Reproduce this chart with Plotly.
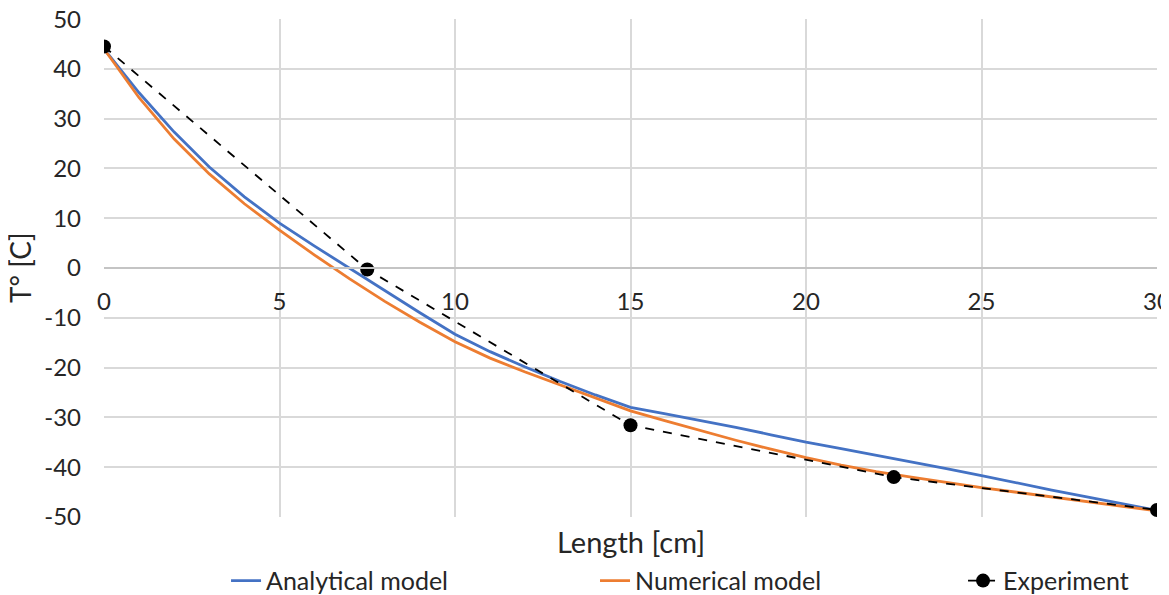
import plotly.graph_objects as go

# ---- data ----
x_model = [0, 1, 2, 3, 4, 5, 6, 7, 8, 9, 10, 11, 12, 13, 14, 15,
           16, 17, 18, 19, 20, 21, 22, 23, 24, 25, 26, 27, 28, 29, 30]
analytical = [44.0, 35.2, 27.3, 20.3, 14.3, 9.0, 4.4, -0.1, -4.6, -9.0, -13.3,
              -16.8, -19.9, -22.8, -25.5, -28.0,
              -29.3, -30.6, -32.0, -33.5, -35.0, -36.3, -37.6, -39.0, -40.3,
              -41.7, -43.2, -44.6, -46.0, -47.4, -48.7]
numerical = [44.0, 34.2, 25.9, 18.9, 12.9, 7.6, 2.6, -2.2, -6.7, -10.9, -14.8,
             -18.1, -20.9, -23.5, -26.1, -28.7,
             -30.7, -32.7, -34.6, -36.4, -38.1, -39.6, -40.9, -42.0, -43.1,
             -44.1, -45.05, -45.95, -46.85, -47.8, -48.8]
x_exp = [0, 7.5, 15, 22.5, 30]
experiment = [44.5, -0.3, -31.6, -42.0, -48.6]

x_ticks = [0, 5, 10, 15, 20, 25, 30]
y_ticks = [-50, -40, -30, -20, -10, 0, 10, 20, 30, 40, 50]

FONT = "Lato"
TXT = "#262626"
GRID = "#d9d9d9"

fig = go.Figure()
fig.add_trace(go.Scatter(x=x_model, y=analytical, mode="lines", name="Analytical model",
                         legend="legend",
                         line=dict(color="#4472C4", width=2.8)))
fig.add_trace(go.Scatter(x=x_model, y=numerical, mode="lines", name="Numerical model",
                         legend="legend2",
                         line=dict(color="#ED7D31", width=2.8)))
fig.add_trace(go.Scatter(x=x_exp, y=experiment, mode="lines+markers", name="Experiment",
                         legend="legend3",
                         line=dict(color="black", width=1.8, dash="dash"),
                         marker=dict(color="black", size=14)))

leg_common = dict(orientation="h", xanchor="left", y=-0.082, yanchor="top",
                  font=dict(family=FONT, size=25, color=TXT), itemclick=False,
                  bgcolor="rgba(0,0,0,0)")

# page body has an 8px margin: figure is sized/offset to compensate
fig.update_layout(
    width=1161, height=587,
    margin=dict(l=96, r=12, t=11, b=78, autoexpand=False),
    paper_bgcolor="white", plot_bgcolor="white",
    font=dict(family=FONT, size=24, color=TXT),
    showlegend=True,
    legend=dict(x=0.1159, **leg_common),
    legend2=dict(x=0.4663, **leg_common),
    legend3=dict(x=0.8158, **leg_common),
    xaxis=dict(range=[0, 30], tickvals=x_ticks, ticktext=[str(v) for v in x_ticks],
               showgrid=True, gridcolor=GRID, gridwidth=1.5,
               anchor="free", position=0.5,
               showline=True, linecolor="#c4c4c4", linewidth=1.8,
               ticks="", ticklabelstandoff=12, zeroline=False,
               ticklabeloverflow="allow",
               tickfont=dict(family=FONT, size=24, color=TXT)),
    yaxis=dict(range=[-50.02, 50.02], tickvals=y_ticks, ticktext=[str(v) for v in y_ticks],
               showgrid=True, gridcolor=GRID, gridwidth=1.5,
               zeroline=False, showline=False, ticks="", ticklabelstandoff=22,
               ticklabeloverflow="allow",
               tickfont=dict(family=FONT, size=24, color=TXT)),
    annotations=[
        dict(text="Length [cm]", xref="paper", yref="paper", x=0.5, y=0,
             yshift=-5, xanchor="center", yanchor="top", showarrow=False,
             font=dict(family=FONT, size=29, color=TXT)),
        dict(text="T° [C]", xref="paper", yref="paper", x=0, y=0.5,
             xshift=-84, xanchor="center", yanchor="middle", textangle=-90,
             showarrow=False, font=dict(family=FONT, size=28, color=TXT)),
    ],
)

fig.write_html("out.html")
